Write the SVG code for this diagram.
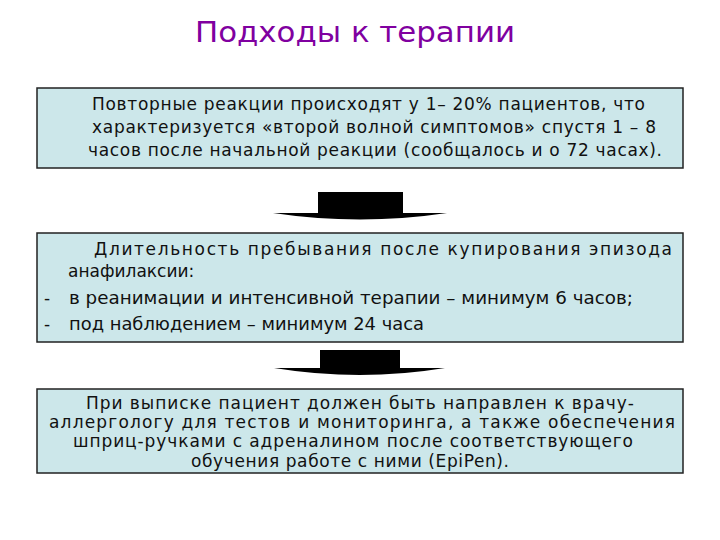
<svg xmlns="http://www.w3.org/2000/svg" width="720" height="540" viewBox="0 0 720 540">
<style>
.box{fill:#cce7ea;stroke:#222;stroke-width:1.5}
.t{font-family:"DejaVu Sans",sans-serif;font-size:17px;fill:#111}
.ar{fill:#000}
</style>
<rect width="720" height="540" fill="#fff"/>
<text x="195" y="42" textLength="320" lengthAdjust="spacingAndGlyphs" font-family="DejaVu Sans,sans-serif" font-size="29" fill="#8000a0">Подходы к терапии</text>
<g id="box1">
<rect class="box" x="37" y="88" width="646" height="80"/>
<text class="t" lengthAdjust="spacingAndGlyphs"><tspan x="92" y="110" textLength="553">Повторные реакции происходят у 1– 20% пациентов, что</tspan><tspan x="92" y="133" textLength="564">характеризуется «второй волной симптомов» спустя 1 – 8</tspan><tspan x="88" y="156" textLength="574">часов после начальной реакции (сообщалось и о 72 часах).</tspan></text>
</g>
<g id="box2">
<rect class="box" x="37" y="233" width="646" height="109"/>
<text class="t"><tspan x="94" y="255" textLength="578" lengthAdjust="spacing">Длительность пребывания после купирования эпизода</tspan><tspan x="68" y="277">анафилаксии:</tspan><tspan x="44" y="304">-</tspan><tspan x="69" y="304" textLength="564" lengthAdjust="spacingAndGlyphs">в реанимации и интенсивной терапии – минимум 6 часов;</tspan><tspan x="44" y="330">-</tspan><tspan x="69" y="330" textLength="355" lengthAdjust="spacingAndGlyphs">под наблюдением – минимум 24 часа</tspan></text>
</g>
<g id="box3">
<rect class="box" x="37" y="389" width="646" height="84"/>
<text class="t" lengthAdjust="spacingAndGlyphs"><tspan x="86" y="409" textLength="548">При выписке пациент должен быть направлен к врачу-</tspan><tspan x="49" y="428" textLength="626">аллергологу для тестов и мониторинга, а также обеспечения</tspan><tspan x="73" y="447" textLength="560">шприц-ручками с адреналином после соответствующего</tspan><tspan x="191" y="467" textLength="318">обучения работе с ними (EpiPen).</tspan></text>
</g>
<g id="connectors">
<path class="ar" d="M318,192 H403 V213 L447,213 Q360,226 273,213 L318,213 Z"/>
<path class="ar" d="M320,350 H400 V368 L445,368 Q360,382 274,368 L320,368 Z"/>
</g>
</svg>
